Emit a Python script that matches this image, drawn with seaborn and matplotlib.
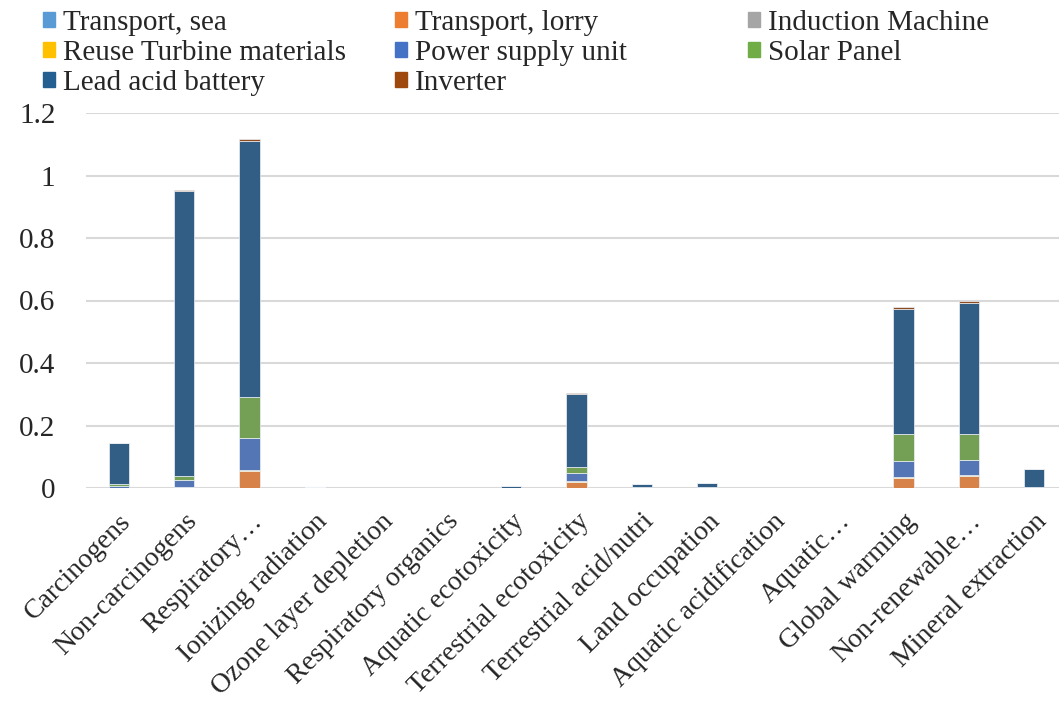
import numpy as np
import matplotlib
matplotlib.use("Agg")
import matplotlib.pyplot as plt
import matplotlib.patches as mpatches
import seaborn as sns

categories = ["Carcinogens", "Non-carcinogens", "Respiratory\u2026", "Ionizing radiation",
              "Ozone layer depletion", "Respiratory organics", "Aquatic ecotoxicity",
              "Terrestrial ecotoxicity", "Terrestrial acid/nutri", "Land occupation",
              "Aquatic acidification", "Aquatic\u2026", "Global warming",
              "Non-renewable\u2026", "Mineral extraction"]

transport_sea = [0.0, 0.0, 0.0, 0.0, 0.0, 0.0, 0.0, 0.0, 0.0, 0.0, 0.0, 0.0, 0.0, 0.0, 0.0]
transport_lorry = [0.001, 0.003, 0.053, 0.0, 0.0, 0.0, 0.0, 0.019, 0.001, 0.001, 0.0, 0.0, 0.032, 0.039, 0.0]
induction_machine = [0.0, 0.0, 0.0, 0.002, 0.0, 0.001, 0.0, 0.0, 0.0, 0.0, 0.0, 0.0, 0.0, 0.0, 0.001]
reuse_turbine = [0.0, 0.001, 0.004, 0.0, 0.0, 0.0, 0.0, 0.002, 0.0, 0.0, 0.0, 0.0, 0.004, 0.002, 0.0]
power_supply = [0.005, 0.021, 0.102, 0.0, 0.0, 0.0, 0.001, 0.026, 0.001, 0.002, 0.0, 0.0, 0.05, 0.05, 0.001]
solar_panel = [0.006, 0.012, 0.133, 0.0, 0.0, 0.0, 0.0, 0.021, 0.0, 0.0, 0.0, 0.0, 0.086, 0.083, 0.0]
lead_acid = [0.132, 0.915, 0.82, 0.0, 0.0, 0.0, 0.006, 0.234, 0.010, 0.013, 0.0, 0.0, 0.40, 0.419, 0.058]
inverter = [0.001, 0.003, 0.006, 0.0, 0.0, 0.0, 0.001, 0.003, 0.001, 0.001, 0.0, 0.0, 0.006, 0.005, 0.0]

series_names = ["Transport, sea", "Transport, lorry", "Induction Machine",
                "Reuse Turbine materials", "Power supply unit", "Solar Panel",
                "Lead acid battery", "Inverter"]
series_values = [transport_sea, transport_lorry, induction_machine, reuse_turbine,
                 power_supply, solar_panel, lead_acid, inverter]
colors = ["#5B9BD5", "#ED7D31", "#A5A5A5", "#FFC000", "#4472C4", "#70AD47", "#255E91", "#9E480E"]

sns.set_style("white")
plt.rcParams["font.family"] = ["Liberation Serif", "DejaVu Serif"]

fig = plt.figure(figsize=(10.59, 7.04), dpi=100)
ax = fig.add_axes([86 / 1059, 1 - 488 / 704, (1059 - 86) / 1059, 375 / 704])

bottom = np.zeros(len(categories))
for name, vals, col in zip(series_names, series_values, colors):
    sns.barplot(x=categories, y=vals, bottom=bottom, color=col, width=0.31,
                errorbar=None, edgecolor="#eef2f7", linewidth=0.5, ax=ax, zorder=3)
    bottom = bottom + np.array(vals)

ax.set_ylim(0, 1.2)
ax.set_xlim(-0.5, 14.38)
ax.set_yticks(np.arange(0, 1.21, 0.2))
ax.set_yticklabels(["0", "0.2", "0.4", "0.6", "0.8", "1", "1.2"], fontsize=21)
ax.yaxis.grid(True, color="#d9d9d9", linewidth=1.5, zorder=0)
ax.set_axisbelow(True)
for s in ax.spines.values():
    s.set_visible(False)
ax.tick_params(axis="x", length=0, pad=15)
ax.tick_params(axis="y", length=0, pad=22)
plt.setp(ax.get_xticklabels(), rotation=45, ha="right", va="top",
         rotation_mode="anchor", fontsize=20)

# legend: three columns placed like the original (row-major order)
legend_cols = [[0, 3, 6], [1, 4, 7], [2, 5]]
col_x = [43, 395, 748]
for idx, x in zip(legend_cols, col_x):
    handles = [mpatches.Patch(color=colors[i]) for i in idx]
    labels = [series_names[i] for i in idx]
    leg = fig.legend(handles, labels, loc="upper left", bbox_to_anchor=(x / 1059, 1 - 10 / 704),
                     frameon=False, fontsize=21, handlelength=0.42, handleheight=0.42,
                     handletextpad=0.25, labelspacing=0.14, borderpad=0, borderaxespad=0)

plt.savefig("out.png", dpi=100)
